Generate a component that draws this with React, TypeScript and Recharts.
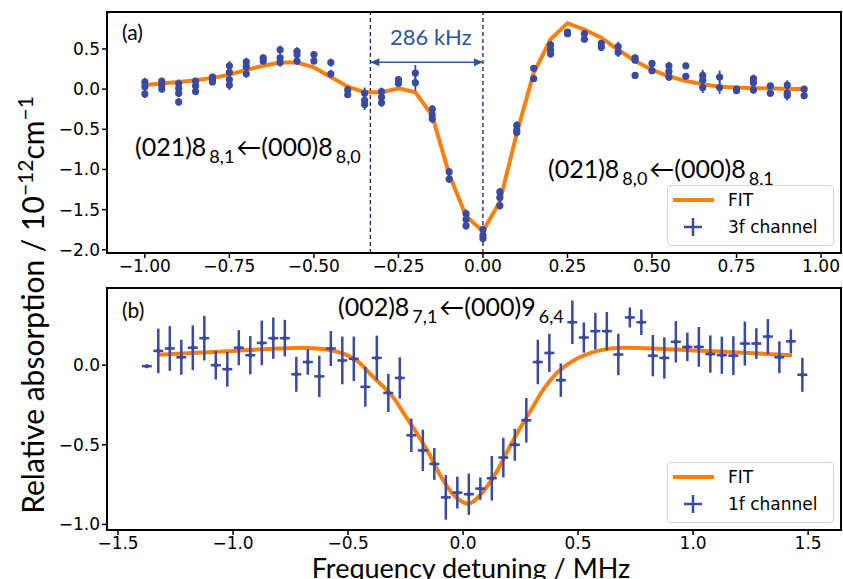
import React from "react";
import {
  ComposedChart,
  Line,
  Scatter,
  XAxis,
  YAxis,
  ErrorBar,
  ReferenceLine,
  ReferenceDot,
  ReferenceArea,
} from "recharts";

const BLUE = "#3a4aa0";
const ORANGE = "#ff7f0e";
const NAVY = "#1c1c78";
const TXT_BLUE = "#2f5597";

// panel (a): 3f channel, several scans per frequency step
const freqA = [
  -1.0, -0.95, -0.9, -0.85, -0.8, -0.75, -0.7, -0.65, -0.6, -0.55,
  -0.5, -0.45, -0.4, -0.35, -0.3, -0.25, -0.2, -0.15, -0.1, -0.05,
  0.0, 0.05, 0.1, 0.15, 0.2, 0.25, 0.3, 0.35, 0.4, 0.45,
  0.5, 0.55, 0.6, 0.65, 0.7, 0.75, 0.8, 0.85, 0.9, 0.95,
];
const scansA = [
  [0.09, 0.03, -0.06], [0.1, 0.05, 0.0], [0.07, 0.01, -0.05, -0.16], [0.1, 0.04, -0.03],
  [0.15, 0.12, 0.09], [0.29, 0.21, 0.12, 0.05], [0.34, 0.28, 0.19], [0.39, 0.35],
  [0.49, 0.39, 0.33], [0.47, 0.43, 0.35], [0.43, 0.35], [0.33, 0.19],
  [-0.01, -0.07], [-0.05, -0.14, -0.19], [-0.03, -0.1, -0.17], [0.12, 0.07],
  [0.2, 0.08], [-0.25, -0.32, -0.37], [-1.03, -1.12], [-1.55, -1.62, -1.7],
  [-1.75, -1.82, -1.86], [-1.28, -1.35, -1.45], [-0.45, -0.51, -0.54], [0.26, 0.13],
  [0.55, 0.49, 0.44], [0.71, 0.69], [0.69, 0.62], [0.57, 0.52],
  [0.53, 0.46], [0.39, 0.36, 0.17], [0.32, 0.23], [0.29, 0.22, 0.15],
  [0.29, 0.16], [0.17, 0.11, 0.02], [0.15, 0.02], [0.0, -0.02],
  [0.13, 0.08, -0.01], [0.04, -0.05], [0.05, -0.05, -0.08], [0.0, -0.08],
];
const errA = [
  0.05, 0.04, 0.05, 0.04, 0.04, 0.06, 0.05, 0.04, 0.05, 0.05,
  0.04, 0.05, 0.04, 0.07, 0.05, 0.04, 0.1, 0.05, 0.05, 0.05,
  0.05, 0.05, 0.05, 0.04, 0.05, 0.03, 0.03, 0.04, 0.06, 0.04,
  0.04, 0.05, 0.04, 0.07, 0.08, 0.03, 0.05, 0.04, 0.06, 0.04,
];
const fitA = [
  0.05, 0.07, 0.09, 0.11, 0.14, 0.18, 0.24, 0.29, 0.33, 0.33,
  0.27, 0.15, 0.03, -0.04, -0.04, 0.01, -0.04, -0.33, -1.06, -1.58,
  -1.77, -1.4, -0.55, 0.2, 0.62, 0.82, 0.74, 0.64, 0.49, 0.35,
  0.24, 0.16, 0.1, 0.06, 0.03, 0.02, 0.01, 0.01, 0.0, 0.0,
];

// panel (b): 1f channel
const freqB = [
  -1.375, -1.325, -1.275, -1.225, -1.175, -1.125, -1.075, -1.025, -0.975, -0.925,
  -0.875, -0.825, -0.775, -0.725, -0.675, -0.625, -0.575, -0.525, -0.475, -0.425,
  -0.375, -0.325, -0.275, -0.225, -0.175, -0.125, -0.075, -0.025, 0.025, 0.075,
  0.125, 0.175, 0.225, 0.275, 0.325, 0.375, 0.425, 0.475, 0.525, 0.575,
  0.625, 0.675, 0.725, 0.775, 0.825, 0.875, 0.925, 0.975, 1.025, 1.075,
  1.125, 1.175, 1.225, 1.275, 1.325, 1.375, 1.425, 1.475,
];
const absB = [
  -0.006, 0.09, 0.105, 0.05, 0.11, 0.17, 0.0, -0.025, 0.11, 0.063,
  0.14, 0.17, 0.17, -0.057, 0.02, -0.07, 0.105, 0.03, 0.04, -0.136,
  0.046, -0.174, -0.08, -0.44, -0.535, -0.62, -0.83, -0.8, -0.81, -0.775,
  -0.71, -0.58, -0.5, -0.346, 0.02, 0.077, -0.094, 0.27, 0.174, 0.214,
  0.214, 0.067, 0.3, 0.27, 0.06, 0.046, 0.147, 0.115, 0.115, 0.07,
  0.063, 0.06, 0.136, 0.136, 0.18, 0.05, 0.15, -0.06,
];
const errB = [
  0.008, 0.14, 0.14, 0.11, 0.14, 0.14, 0.09, 0.11, 0.11, 0.12,
  0.14, 0.13, 0.115, 0.11, 0.08, 0.13, 0.11, 0.15, 0.14, 0.125,
  0.14, 0.12, 0.13, 0.105, 0.13, 0.1, 0.14, 0.1, 0.13, 0.07,
  0.14, 0.125, 0.1, 0.14, 0.14, 0.12, 0.105, 0.137, 0.095, 0.115,
  0.12, 0.13, 0.063, 0.08, 0.13, 0.13, 0.13, 0.09, 0.125, 0.117,
  0.117, 0.122, 0.138, 0.096, 0.11, 0.1, 0.075, 0.107,
];
const fitFreqB = [
  -1.325, -1.2, -1.0, -0.8, -0.7, -0.6, -0.55, -0.5, -0.45, -0.4,
  -0.35, -0.3, -0.25, -0.2, -0.15, -0.1, -0.05, 0.0, 0.02, 0.05,
  0.1, 0.15, 0.2, 0.25, 0.3, 0.35, 0.4, 0.45, 0.5, 0.55,
  0.6, 0.7, 0.8, 1.0, 1.2, 1.43,
];
const fitB = [
  0.065, 0.075, 0.09, 0.105, 0.11, 0.1, 0.085, 0.06, 0.015, -0.06,
  -0.13, -0.21, -0.32, -0.43, -0.55, -0.69, -0.8, -0.86, -0.87, -0.85,
  -0.77, -0.66, -0.52, -0.39, -0.27, -0.15, -0.06, 0.0, 0.045, 0.075,
  0.095, 0.11, 0.107, 0.093, 0.08, 0.062,
];

const ticksAX = [-1, -0.75, -0.5, -0.25, 0, 0.25, 0.5, 0.75, 1];
const ticksAY = [-2, -1.5, -1, -0.5, 0, 0.5];
const ticksBX = [-1.5, -1, -0.5, 0, 0.5, 1, 1.5];
const ticksBY = [-1, -0.5, 0];

const lineA = { x1: -0.333, x2: 0.0, arrowY: 0.335 };

const domAX: [number, number] = [-1.112, 1.059];
const domAY: [number, number] = [-2.04, 0.96];
const domBX: [number, number] = [-1.548, 1.643];
const domBY: [number, number] = [-1.035, 0.485];

const pointsA = freqA.flatMap((x, i) => scansA[i].map((y) => ({ x, y, err: errA[i] })));
const fitDataA = freqA.map((x, i) => ({ x, y: fitA[i] }));
const pointsB = freqB.map((x, i) => ({ x, y: absB[i], err: errB[i] }));
const fitDataB = fitFreqB.map((x, i) => ({ x, y: fitB[i] }));

const minus = (v: number, d: number) => (v < 0 ? "\u2212" : "") + Math.abs(v).toFixed(d);

const tickStyle = { fontSize: 17, fill: "#000", fontFamily: "DejaVu Sans" };
const axisLine = { stroke: "#000", strokeWidth: 2 };
const tickLine = { stroke: "#000", strokeWidth: 1.5 };

const Dot = (p: any) => <circle cx={p.cx} cy={p.cy} r={3.6} fill={BLUE} />;
const Plus = (p: any) => (
  <g>
    <line x1={p.cx - 5} x2={p.cx + 5} y1={p.cy} y2={p.cy} stroke={BLUE} strokeWidth={2.5} />
    <circle cx={p.cx} cy={p.cy} r={2.2} fill={BLUE} />
  </g>
);
const HeadLeft = (p: any) => (
  <path d={`M${p.cx},${p.cy} l9,-4 l0,8 z`} fill={TXT_BLUE} />
);
const HeadRight = (p: any) => (
  <path d={`M${p.cx},${p.cy} l-9,-4 l0,8 z`} fill={TXT_BLUE} />
);

const Sub = ({ children }: { children: React.ReactNode }) => (
  <span style={{ fontSize: 18, position: "relative", top: 7, margin: "0 2px 0 3px" }}>{children}</span>
);

const lato = "Lato, 'Open Sans', sans-serif";

const Legend = ({ top, label }: { top: number; label: string }) => (
  <div
    style={{
      position: "absolute",
      left: 667,
      top,
      width: 165,
      height: 59,
      border: "1px solid #d4d4d4",
      borderRadius: 4,
      background: "rgba(255,255,255,0.85)",
      fontFamily: "DejaVu Sans",
      fontSize: 17,
    }}
  >
    <svg width={60} height={59} style={{ position: "absolute", left: 0, top: 0 }}>
      <line x1={5} x2={46} y1={14} y2={14} stroke={ORANGE} strokeWidth={4} />
      <line x1={16} x2={34} y1={41} y2={41} stroke={BLUE} strokeWidth={2.5} />
      <line x1={25} x2={25} y1={32} y2={50} stroke={BLUE} strokeWidth={2.5} />
    </svg>
    <div style={{ position: "absolute", left: 60, top: 4, lineHeight: "20px" }}>FIT</div>
    <div style={{ position: "absolute", left: 60, top: 31, lineHeight: "20px" }}>{label}</div>
  </div>
);

export default function App() {
  return (
    <div style={{ position: "absolute", left: 0, top: 0, width: 843, height: 579, background: "#fff", overflow: "hidden" }}>
      <div style={{ position: "absolute", left: 0, top: 0 }}>
        <ComposedChart width={843} height={280} margin={{ top: 12, right: 2, bottom: 0, left: 0 }}>
          <XAxis
            type="number"
            dataKey="x"
            domain={domAX}
            allowDataOverflow
            ticks={ticksAX}
            tickFormatter={(v: number) => minus(v, 2)}
            tick={tickStyle}
            tickSize={5}
            axisLine={axisLine}
            tickLine={tickLine}
            height={27}
          />
          <YAxis
            type="number"
            domain={domAY}
            allowDataOverflow
            ticks={ticksAY}
            tickFormatter={(v: number) => minus(v, 1)}
            tick={tickStyle}
            tickSize={5}
            axisLine={axisLine}
            tickLine={tickLine}
            width={107}
          />
          <ReferenceArea x1={domAX[0]} x2={domAX[1]} y1={domAY[0]} y2={domAY[1]} fill="none" stroke="#000" strokeWidth={2} />
          <ReferenceLine x={lineA.x1} stroke={NAVY} strokeDasharray="4 3" strokeWidth={1.3} />
          <ReferenceLine x={lineA.x2} stroke={NAVY} strokeDasharray="4 3" strokeWidth={1.3} />
          <ReferenceLine
            segment={[
              { x: lineA.x1, y: lineA.arrowY },
              { x: lineA.x2, y: lineA.arrowY },
            ]}
            stroke={TXT_BLUE}
            strokeWidth={1.5}
          />
          <ReferenceDot x={lineA.x1} y={lineA.arrowY} r={0} shape={HeadLeft} />
          <ReferenceDot x={lineA.x2} y={lineA.arrowY} r={0} shape={HeadRight} />
          <Line data={fitDataA} dataKey="y" type="linear" stroke={ORANGE} strokeWidth={4} dot={false} isAnimationActive={false} />
          <Scatter data={pointsA} dataKey="y" shape={Dot} isAnimationActive={false}>
            <ErrorBar dataKey="err" direction="y" width={0} stroke={BLUE} strokeWidth={1.8} />
          </Scatter>
        </ComposedChart>
      </div>

      <div style={{ position: "absolute", left: 0, top: 276 }}>
        <ComposedChart width={843} height={303} margin={{ top: 12, right: 2, bottom: 0, left: 0 }}>
          <XAxis
            type="number"
            dataKey="x"
            domain={domBX}
            allowDataOverflow
            ticks={ticksBX}
            tickFormatter={(v: number) => minus(v, 1)}
            tick={tickStyle}
            tickSize={5}
            axisLine={axisLine}
            tickLine={tickLine}
            height={49}
          />
          <YAxis
            type="number"
            domain={domBY}
            allowDataOverflow
            ticks={ticksBY}
            tickFormatter={(v: number) => minus(v, 1)}
            tick={tickStyle}
            tickSize={5}
            axisLine={axisLine}
            tickLine={tickLine}
            width={107}
          />
          <ReferenceArea x1={domBX[0]} x2={domBX[1]} y1={domBY[0]} y2={domBY[1]} fill="none" stroke="#000" strokeWidth={2} />
          <Line data={fitDataB} dataKey="y" type="monotone" stroke={ORANGE} strokeWidth={4} dot={false} isAnimationActive={false} />
          <Scatter data={pointsB} dataKey="y" shape={Plus} isAnimationActive={false}>
            <ErrorBar dataKey="err" direction="y" width={0} stroke={BLUE} strokeWidth={2.5} />
          </Scatter>
        </ComposedChart>
      </div>

      {/* panel labels and annotations */}
      <div style={{ position: "absolute", left: 122, top: 21, fontFamily: lato, fontSize: 21, lineHeight: 1 }}>(a)</div>
      <div style={{ position: "absolute", left: 122, top: 299, fontFamily: lato, fontSize: 21, lineHeight: 1 }}>(b)</div>
      <div style={{ position: "absolute", left: 390, top: 26, fontFamily: lato, fontSize: 22, lineHeight: 1, color: TXT_BLUE }}>
        286 kHz
      </div>
      <div style={{ position: "absolute", left: 135, top: 134, fontFamily: lato, fontSize: 25, lineHeight: 1, whiteSpace: "nowrap" }}>
        (021)8<Sub>8,1</Sub>←(000)8<Sub>8,0</Sub>
      </div>
      <div style={{ position: "absolute", left: 548, top: 156, fontFamily: lato, fontSize: 25, lineHeight: 1, whiteSpace: "nowrap" }}>
        (021)8<Sub>8,0</Sub>←(000)8<Sub>8,1</Sub>
      </div>
      <div style={{ position: "absolute", left: 338, top: 294, fontFamily: lato, fontSize: 25, lineHeight: 1, whiteSpace: "nowrap" }}>
        (002)8<Sub>7,1</Sub>←(000)9<Sub>6,4</Sub>
      </div>

      <Legend top={185} label="3f channel" />
      <Legend top={462} label="1f channel" />

      {/* axis titles */}
      <div
        style={{
          position: "absolute",
          left: 30,
          top: 305,
          transform: "translate(-50%, -50%) rotate(-90deg)",
          fontFamily: lato,
          fontSize: 30,
          whiteSpace: "nowrap",
          lineHeight: 1,
        }}
      >
        Relative absorption / 10<sup style={{ fontSize: 21 }}>−12</sup>cm<sup style={{ fontSize: 21 }}>−1</sup>
      </div>
      <div
        style={{
          position: "absolute",
          left: 471,
          top: 554,
          transform: "translateX(-50%)",
          fontFamily: lato,
          fontSize: 27,
          whiteSpace: "nowrap",
          lineHeight: 1,
        }}
      >
        Frequency detuning / MHz
      </div>
    </div>
  );
}
